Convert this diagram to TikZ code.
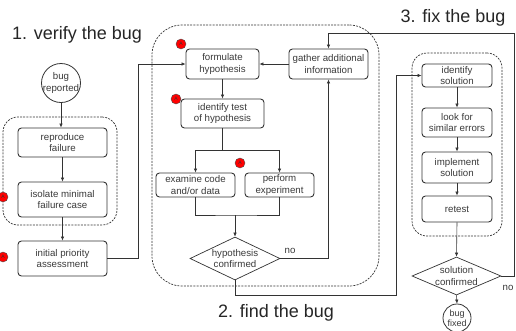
\documentclass[tikz,border=0pt]{standalone}
\usepackage{fontspec}
\setmainfont{Liberation Sans}
\usetikzlibrary{shapes.geometric,arrows.meta}
\definecolor{ink}{HTML}{333333}
\definecolor{txt}{HTML}{3A3A3A}
\begin{document}
\begin{tikzpicture}[x=1pt,y=-1pt,
  box/.style={draw=ink, line width=0.9pt, rounded corners=3.5pt, align=center, inner sep=0pt,
    font=\fontsize{9.7}{11.5}\selectfont, text=txt},
  dia/.style={draw=ink, line width=0.7pt, diamond, inner sep=0pt, align=center,
    font=\fontsize{9.7}{11.5}\selectfont, text=txt},
  term/.style={draw=ink, line width=0.8pt, circle, inner sep=0pt, align=center,
    font=\fontsize{9.7}{11.5}\selectfont, text=txt},
  group/.style={draw=ink, line width=0.7pt, dash pattern=on 2pt off 1.2pt, inner sep=0pt},
  marker/.style={circle, fill=red, draw=black!70, line width=0.4pt, inner sep=0pt,
    minimum size=10pt, font=\fontsize{5}{5}\selectfont, text=black!80},
  captext/.style={font=\fontsize{18}{20}\selectfont, text=black!85},
  lbl/.style={font=\fontsize{9.7}{11.5}\selectfont, text=txt},
  conn/.style={draw=ink, line width=0.6pt},
  arr/.style={conn, -{Latex[length=4pt,width=3.5pt]}}]
\clip (0,0) rectangle (516,330);
\useasboundingbox (0,0) rectangle (516,330);
\fill[white] (0,0) rectangle (516,330);

% groups
\node[group, rounded corners=15pt, minimum width=114pt, minimum height=108pt] (g1) at (60,171) {};
\node[group, rounded corners=30pt, minimum width=227pt, minimum height=261pt] (g2) at (265.5,155.5) {};
\node[group, rounded corners=15pt, minimum width=90pt, minimum height=183pt] (g3) at (457,144.5) {};

% captions
\node[captext] (c1) at (77,35) {1. verify the bug};
\node[captext] (c2) at (276,313) {2. find the bug};
\node[captext] (c3) at (453,18) {3. fix the bug};

% phase 1
\node[term, minimum size=39pt] (bugrep) at (61,83) {\makebox[0pt]{bug}\\\makebox[0pt]{reported}};
\node[box, minimum width=89pt, minimum height=29pt] (rep) at (62.5,142.5) {reproduce\\failure};
\node[box, minimum width=89pt, minimum height=35pt] (iso) at (62.5,199.5) {isolate minimal\\failure case};
\node[box, minimum width=89pt, minimum height=35pt] (init) at (62.5,258.5) {initial priority\\assessment};

% phase 2
\node[box, minimum width=73pt, minimum height=30pt] (form) at (222.5,64) {formulate\\hypothesis};
\node[box, minimum width=79pt, minimum height=30pt] (gath) at (328.5,64) {gather additional\\information};
\node[box, minimum width=83pt, minimum height=29pt] (idtest) at (222.5,113.5) {identify test\\of hypothesis};
\node[box, minimum width=79pt, minimum height=24pt] (exam) at (195.5,185) {examine code\\and/or data};
\node[box, minimum width=69pt, minimum height=24pt] (perf) at (279.5,185) {perform\\experiment};
\node[dia, minimum width=90pt, minimum height=43pt] (hyp) at (235,258.5) {\makebox[0pt]{hypothesis}\\\makebox[0pt]{confirmed}};

% phase 3
\node[box, minimum width=70pt, minimum height=23pt] (idsol) at (457,75.5) {identify\\solution};
\node[box, minimum width=70pt, minimum height=29pt] (look) at (457,122.5) {look for\\similar errors};
\node[box, minimum width=70pt, minimum height=31pt] (impl) at (457,167.5) {implement\\solution};
\node[box, minimum width=70pt, minimum height=26pt] (retest) at (457,209) {retest};
\node[dia, minimum width=89pt, minimum height=38pt] (sol) at (456.5,276) {\makebox[0pt]{solution}\\\makebox[0pt]{confirmed}};
\node[term, minimum size=28pt, font=\fontsize{9}{10}\selectfont] (fixed) at (457,318) {\makebox[0pt]{bug}\\\makebox[0pt]{fixed}};

% markers
\node[marker] (m1) at (3,197) {A};
\node[marker] (m2) at (3,257) {A};
\node[marker] (m3) at (181,44) {A};
\node[marker] (m4) at (176,99) {A};
\node[marker] (m5) at (240,163) {A};

% connectors phase 1
\draw[arr] (bugrep) -- (bugrep.south |- rep.north);
\draw[arr] (rep.south) -- (iso.north);
\draw[arr] (iso.south) -- (init.north);
\coordinate (b1) at (138,258.5);
\draw[arr] (init.east) -- (b1) |- (form.west);

% connectors phase 2
\draw[arr] (gath.west) -- (form.east);
\draw[arr] (form.south) -- (idtest.north);
\coordinate (fk) at (222.5,150);
\draw[conn] (idtest.south) -- (fk);
\draw[arr] (fk) -| (exam.north);
\draw[arr] (fk) -| (perf.north);
\coordinate (mg) at (235,215);
\draw[conn] (exam.south) |- (mg) -| (perf.south);
\draw[arr] (mg) -- (hyp.north);
\draw[arr] (hyp.east) -| (gath.south);
\node[lbl] (no1) at (290,251) {no};

% phase 2 -> phase 3
\coordinate (d1) at (235,295);
\coordinate (d2) at (396,295);
\draw[arr] (hyp.south) -- (d1) -- (d2) |- (idsol.west);

% connectors phase 3
\draw[arr] (idsol.south) -- (look.north);
\draw[arr] (look.south) -- (impl.north);
\draw[arr] (impl.south) -- (retest.north);
\draw[arr] (retest.south) -- (sol.north);
\draw[arr] (sol.south) -- (fixed.north);
\coordinate (e1) at (514,276);
\coordinate (e2) at (514,33);
\draw[arr] (sol.east) -- (e1) -- (e2) -| (gath.north);
\node[lbl] (no2) at (508,288) {no};
\end{tikzpicture}
\end{document}
